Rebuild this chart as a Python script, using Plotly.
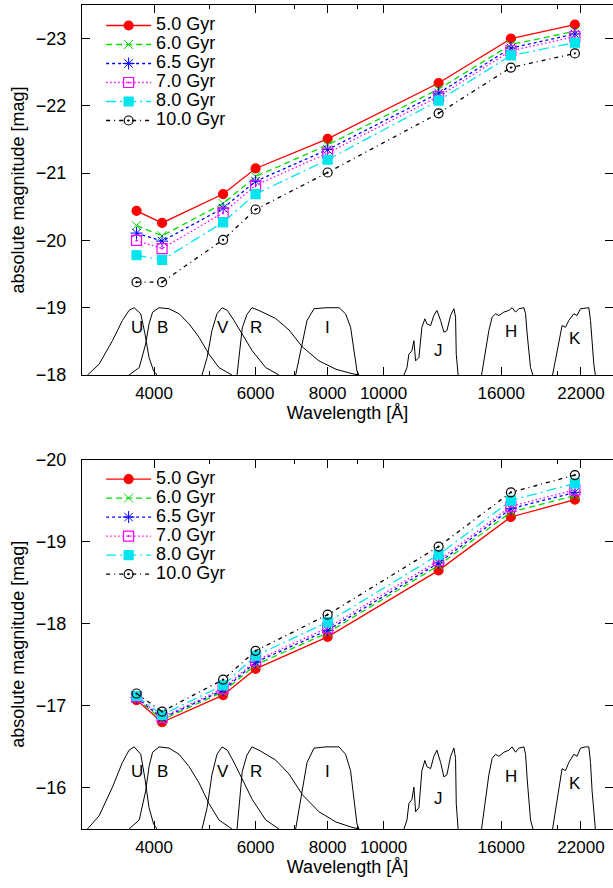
import numpy as np
import plotly.graph_objects as go

# ---------------- data ----------------
bands = ["U", "B", "V", "R", "I", "J", "H", "K"]
band_wl = [3730, 4130, 5270, 6000, 8000, 12460, 16630, 21470]
label_frac = [0.70, 0.70, 0.70, 0.70, 0.70, 0.37, 0.64, 0.55]

ages = ["5.0 Gyr", "6.0 Gyr", "6.5 Gyr", "7.0 Gyr", "8.0 Gyr", "10.0 Gyr"]

# top panel absolute magnitudes (U B V R I J H K)
top_5p0 = [-20.44, -20.26, -20.69, -21.07, -21.51, -22.34, -23.00, -23.21]
top_6p0 = [-20.22, -20.07, -20.55, -20.95, -21.42, -22.25, -22.91, -23.11]
top_6p5 = [-20.11, -19.99, -20.48, -20.88, -21.35, -22.19, -22.86, -23.07]
top_7p0 = [-20.00, -19.88, -20.41, -20.82, -21.30, -22.14, -22.82, -23.03]
top_8p0 = [-19.78, -19.71, -20.27, -20.69, -21.20, -22.08, -22.75, -22.94]
top_10p0 = [-19.38, -19.38, -20.01, -20.46, -21.01, -21.89, -22.57, -22.78]

# bottom panel absolute magnitudes
bot_5p0 = [-17.07, -16.80, -17.13, -17.45, -17.84, -18.65, -19.30, -19.51]
bot_6p0 = [-17.09, -16.83, -17.17, -17.50, -17.89, -18.71, -19.36, -19.56]
bot_6p5 = [-17.10, -16.85, -17.19, -17.53, -17.92, -18.74, -19.40, -19.60]
bot_7p0 = [-17.11, -16.86, -17.21, -17.55, -17.95, -18.77, -19.43, -19.63]
bot_8p0 = [-17.12, -16.89, -17.25, -17.61, -18.02, -18.84, -19.50, -19.71]
bot_10p0 = [-17.15, -16.93, -17.32, -17.67, -18.11, -18.94, -19.60, -19.81]

# filter transmission curves (wavelength [A], normalised transmission)
U_wl = [3066, 3212, 3388, 3525, 3620, 3694, 3793, 3858, 3921, 3993, 4048]
U_tr = [0.0, 0.16, 0.51, 0.81, 0.96, 1.0, 0.91, 0.61, 0.26, 0.06, 0.0]
B_wl = [3620, 3770, 3868, 3921, 3977, 4080, 4247, 4420, 4600, 4788, 4981, 5184, 5460]
B_tr = [0.0, 0.11, 0.46, 0.76, 0.935, 1.0, 0.985, 0.91, 0.76, 0.56, 0.31, 0.11, 0.0]
V_wl = [4844, 4944, 5040, 5143, 5248, 5361, 5505, 5689, 5920, 6248, 6589]
V_tr = [0.0, 0.26, 0.66, 0.91, 1.0, 0.96, 0.81, 0.61, 0.36, 0.11, 0.0]
R_wl = [5572, 5637, 5689, 5796, 5913, 6080, 6500, 6857, 7228, 7727, 8272, 8817, 9064]
R_tr = [0.0, 0.4, 0.7, 0.9, 1.0, 0.96, 0.84, 0.67, 0.42, 0.21, 0.085, 0.02, 0.0]
I_wl = [7041, 7220, 7368, 7576, 7948, 8372, 8593, 8767, 8887, 8994, 9064]
I_tr = [0.0, 0.46, 0.81, 0.985, 1.0, 1.0, 0.91, 0.71, 0.36, 0.06, 0.0]
J_wl = [10851, 10981, 11066, 11200, 11290, 11367, 11518, 11596, 11657, 11796, 11889,
        12067, 12227, 12376, 12560, 12727, 12880, 13071, 13140, 13245, 13333, 13370, 13470]
J_tr = [0.0, 0.11, 0.31, 0.36, 0.51, 0.21, 0.26, 0.56, 0.71, 0.835, 0.76,
        0.735, 0.885, 0.96, 0.81, 0.635, 0.66, 0.885, 0.935, 0.985, 0.86, 0.31, 0.0]
H_wl = [14791, 15028, 15228, 15431, 15642, 15849, 16170, 16497, 16711, 16942, 17168,
        17514, 17633, 17745, 17863, 17985, 18160]
H_tr = [0.0, 0.36, 0.66, 0.86, 0.91, 0.885, 0.935, 0.96, 1.0, 0.935, 0.985,
        1.0, 0.91, 0.61, 0.36, 0.11, 0.0]
K_wl = [19640, 19870, 20134, 20401, 20679, 20955, 21379, 21659, 21955, 22402, 22700,
        22853, 22999, 23157, 23300]
K_tr = [0.0, 0.21, 0.46, 0.735, 0.71, 0.81, 0.91, 0.885, 0.985, 1.0, 1.0,
        0.81, 0.46, 0.16, 0.0]

x_ticks = [4000, 6000, 8000, 10000, 16000, 22000]
x_minor = [5000, 7000, 9000, 20000]
top_yticks = [-23, -22, -21, -20, -19, -18]
bot_yticks = [-20, -19, -18, -17, -16]

# ---------------- styling ----------------
colors = ["#ff0000", "#00dd00", "#0000ff", "#ff00ff", "#00e5ee", "#000000"]
dashes = ["solid", "6px,4px", "3px,3px", "1.5px,2.5px", "10px,4px,2px,4px", "4px,4px,1px,4px"]
symbols = ["circle", "x-thin-open", "asterisk-open", "square-open-dot", "square", "circle-open-dot"]
msizes = [9, 9, 10, 10, 9, 9]

FONT = "Liberation Sans, Arial, sans-serif"
FS = 18
LEG_FS = 18
TICK_FS = 18


def minus(v):
    return ("\u2212%d" % -v) if v < 0 else "%d" % v


fig = go.Figure()

top_series = [top_5p0, top_6p0, top_6p5, top_7p0, top_8p0, top_10p0]
bot_series = [bot_5p0, bot_6p0, bot_6p5, bot_7p0, bot_8p0, bot_10p0]

filters = [(U_wl, U_tr), (B_wl, B_tr), (V_wl, V_tr), (R_wl, R_tr), (I_wl, I_tr),
           (J_wl, J_tr), (H_wl, H_tr), (K_wl, K_tr)]

panels = [("x", "y", top_series, -18.0, "legend"), ("x2", "y2", bot_series, -15.5, "legend2")]

for xa, ya, series, base, leg in panels:
    # filter curves
    for wl, tr in filters:
        fig.add_trace(go.Scatter(
            x=wl, y=[base - t for t in tr], mode="lines",
            line=dict(color="black", width=1), showlegend=False, hoverinfo="skip",
            xaxis=xa, yaxis=ya))
    # magnitudes
    for i, vals in enumerate(series):
        lw = 1.0 if symbols[i] in ("x-thin-open", "asterisk-open") else 1.2
        fig.add_trace(go.Scatter(
            x=band_wl, y=vals, mode="lines+markers",
            name='<span style="font-size:%dpx">%s</span>' % (LEG_FS, ages[i]),
            line=dict(color=colors[i], width=1.3, dash=dashes[i]),
            marker=dict(symbol=symbols[i], size=msizes[i], color=colors[i],
                        line=dict(color=colors[i], width=lw)),
            xaxis=xa, yaxis=ya, legend=leg))
    # filter labels
    for b, w, f in zip(bands, band_wl, label_frac):
        fig.add_annotation(x=np.log10(w), y=base - f, xref=xa, yref=ya, text=b,
                           showarrow=False, font=dict(family=FONT, size=17, color="black"))

W, H = 613, 888
ml, mr, mt, mb = 82, 0, 5, 59
ph = H - mt - mb
top_dom = [(829 - 375) / ph, 1.0]
bot_dom = [0.0, (829 - 459.5) / ph]

xaxis_common = dict(
    type="log", range=[np.log10(3000), np.log10(25000)], automargin=False,
    tickmode="array", tickvals=x_ticks, ticktext=[str(v) for v in x_ticks],
    ticks="inside", ticklen=8, tickwidth=1, tickcolor="black",
    minor=dict(tickmode="array", tickvals=x_minor, ticks="inside", ticklen=4,
               tickwidth=1, tickcolor="black", showgrid=False),
    showline=True, linecolor="black", linewidth=1.3, mirror="ticks",
    showgrid=False, zeroline=False, ticklabelstandoff=2,
    tickfont=dict(family=FONT, size=17, color="black"),
    title=dict(text="Wavelength [Å]", font=dict(family=FONT, size=FS, color="black"), standoff=2),
)
yaxis_common = dict(
    autorange=False, automargin=False,
    ticks="inside", ticklen=8, tickwidth=1, tickcolor="black",
    showline=True, linecolor="black", linewidth=1.3, mirror="ticks",
    showgrid=False, zeroline=False, ticklabelstandoff=11,
    tickfont=dict(family=FONT, size=TICK_FS, color="black"),
    title=dict(text="absolute magnitude [mag]", font=dict(family=FONT, size=FS, color="black"), standoff=6),
)

fig.update_layout(
    width=W, height=H, margin=dict(l=ml, r=mr, t=mt, b=mb, autoexpand=False),
    paper_bgcolor="white", plot_bgcolor="white",
    font=dict(family=FONT, size=FS, color="black"),
    xaxis=dict(xaxis_common, domain=[0, 1], anchor="y"),
    yaxis=dict(yaxis_common, domain=top_dom, range=[-18, -23.5],
               tickmode="array", tickvals=top_yticks,
               ticktext=[minus(v) for v in top_yticks], anchor="x"),
    xaxis2=dict(xaxis_common, domain=[0, 1], anchor="y2"),
    yaxis2=dict(yaxis_common, domain=bot_dom, range=[-15.5, -20],
                tickmode="array", tickvals=bot_yticks,
                ticktext=[minus(v) for v in bot_yticks], anchor="x2"),
    legend=dict(x=0.036, y=0.9927, xanchor="left", yanchor="top", bgcolor="rgba(0,0,0,0)",
                font=dict(family=FONT, size=12, color="black"), tracegroupgap=0,
                itemwidth=45),
    legend2=dict(x=0.036, y=0.4423, xanchor="left", yanchor="top", bgcolor="rgba(0,0,0,0)",
                 font=dict(family=FONT, size=12, color="black"), tracegroupgap=0,
                 itemwidth=45),
    showlegend=True,
)

fig.write_html("out.html", config={"displayModeBar": False},
               post_script="document.body.style.margin='0px';")
